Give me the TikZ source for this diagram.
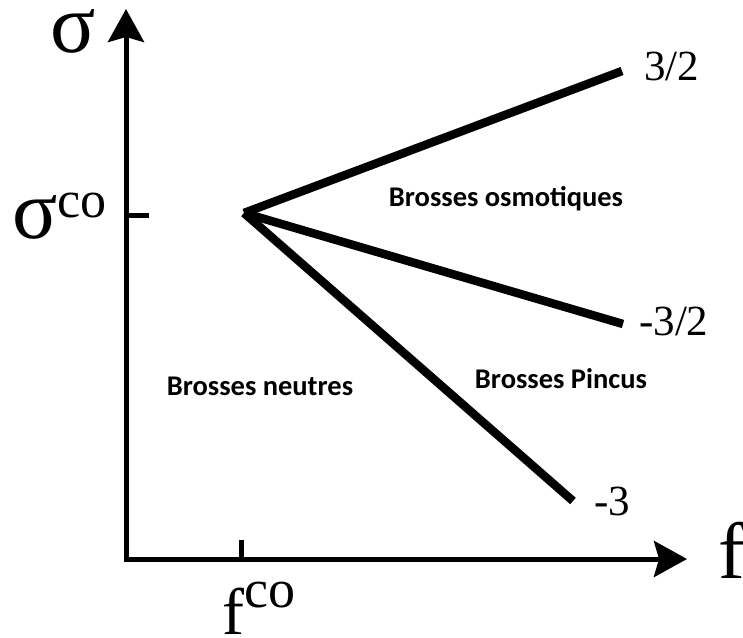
\documentclass[tikz,border=0pt]{standalone}
\usepackage{fontspec}
\setmainfont{Liberation Serif}
\newfontfamily\lblfont{Carlito}
\usetikzlibrary{arrows.meta}
\tikzset{
  axisline/.style={line width=5pt, line join=miter},
  tickline/.style={line width=5pt},
  branchline/.style={line width=8.5pt},
  regionlbl/.style={font=\lblfont\bfseries\fontsize{28.5}{30}\selectfont, inner sep=0pt, anchor=base},
  exponent/.style={font=\fontsize{43}{45}\selectfont, inner sep=0pt, anchor=base west},
  axislbl/.style={inner sep=0pt, text depth=0pt},
  axtip/.tip={Stealth[length=33pt,width=36pt,inset=5pt]},
}
\begin{document}
\begin{tikzpicture}[x=1pt,y=-1pt]
\useasboundingbox (0,0) rectangle (743,637);
% axes
\coordinate (O) at (126,559);
\coordinate (ytop) at (126,9);
\coordinate (xend) at (687,559);
\draw[axisline, axtip-axtip] (ytop) -- (O) -- (xend);
% ticks
\coordinate (ty0) at (126,215);
\coordinate (ty1) at (149,215);
\coordinate (tx0) at (241,540);
\coordinate (tx1) at (241,559);
\draw[tickline] (ty0) -- (ty1);
\draw[tickline] (tx0) -- (tx1);
% axis labels
\node[axislbl, font=\fontsize{84}{84}\selectfont, text height=42pt, anchor=base] (sig) at (73,52) {σ};
\node[axislbl, font=\fontsize{84}{84}\selectfont, anchor=base west] (sigco) at (12,238) {σ\raisebox{21pt}{\fontsize{52}{52}\selectfont co}};
\node[axislbl, font=\fontsize{66}{66}\selectfont, anchor=base west] (fco) at (222,634) {f\raisebox{27pt}{\fontsize{54}{54}\selectfont co}};
\node[axislbl, font=\fontsize{80}{80}\selectfont, anchor=base west] (f) at (718,578) {f};
% branches
\coordinate (V) at (244,213);
\coordinate (e1) at (622,71);
\coordinate (e2) at (623,324);
\coordinate (e3) at (573,501);
\draw[branchline] (V) -- (e1);
\draw[branchline] (V) -- (e2);
\draw[branchline] (V) -- (e3);
% exponents
\node[exponent] (x1) at (644,80) {3/2};
\node[exponent] (x2) at (639,335) {-3/2};
\node[exponent] (x3) at (594,515) {-3};
% regions
\node[regionlbl] (osm) at (506,206) {Brosses osmotiques};
\node[regionlbl] (neu) at (260,395) {Brosses neutres};
\node[regionlbl] (pin) at (561,388) {Brosses Pincus};
\end{tikzpicture}
\end{document}
